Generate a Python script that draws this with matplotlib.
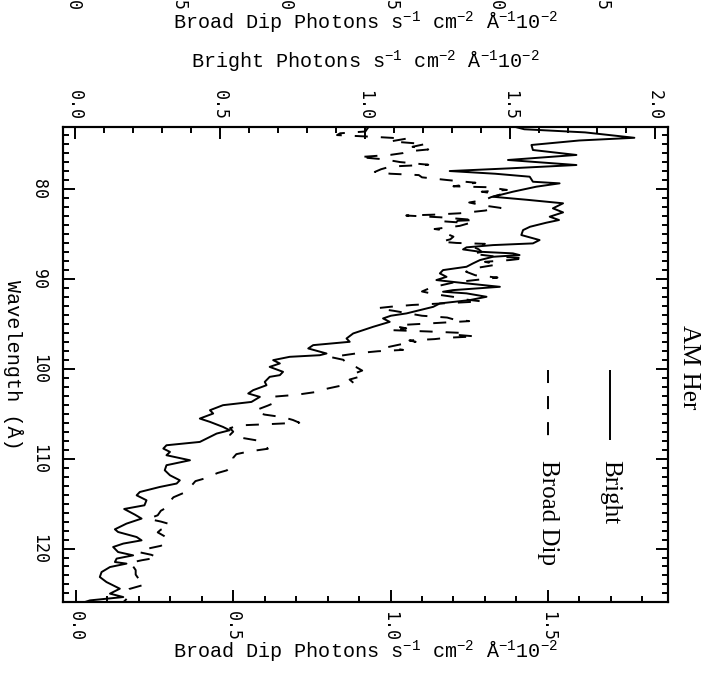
import matplotlib
matplotlib.use('Agg')
import matplotlib.pyplot as plt
from matplotlib.ticker import MultipleLocator

# ---------------- data ----------------
bright_wave = [73.1, 73.35, 73.7, 74.3, 74.6, 75.1, 75.66, 76.21, 76.77, 77.33,
               77.7, 78.0, 78.3, 78.63, 79.19, 79.37, 79.74, 80.3, 80.86, 81.2,
               81.59, 82.15, 82.6, 83.08, 83.45, 83.75, 84.2, 84.57, 85.12, 85.68,
               86.05, 86.24, 86.49, 86.72, 86.98, 87.16, 87.35, 87.54, 87.91, 88.28,
               88.65, 89.02, 89.39, 89.77, 90.13, 90.5, 90.88, 91.25, 91.43, 91.61,
               91.99, 92.36, 92.73, 93.11, 93.47, 93.84, 94.1, 94.4, 94.78, 95.33,
               96.07, 96.63, 97.0, 97.37, 97.74, 98.3, 98.49, 98.67, 99.04, 99.41,
               99.79, 100.34, 100.71, 100.9, 101.46, 101.83, 102.38, 102.75, 103.13, 103.69,
               104.05, 104.61, 104.98, 105.54, 105.91, 106.47, 106.84, 107.21, 108.14, 108.51,
               108.88, 109.25, 109.62, 110.18, 110.73, 111.29, 111.85, 112.41, 112.77, 113.15,
               113.71, 114.08, 114.63, 115.19, 115.6, 116.23, 116.67, 117.23, 117.86, 118.16,
               118.72, 119.09, 119.45, 119.83, 120.39, 120.76, 121.12, 121.5, 121.68, 122.06,
               122.62, 123.17, 123.73, 124.1, 124.47, 125.02, 125.4, 125.77, 126.0]
bright_flux = [1.52, 1.55, 1.76, 1.93, 1.74, 1.575, 1.58, 1.73, 1.494, 1.73,
               1.50, 1.293, 1.45, 1.569, 1.58, 1.672, 1.592, 1.511, 1.442, 1.56,
               1.684, 1.649, 1.684, 1.638, 1.67, 1.626, 1.57, 1.546, 1.54, 1.603,
               1.58, 1.442, 1.351, 1.339, 1.397, 1.511, 1.534, 1.442, 1.397, 1.373,
               1.351, 1.27, 1.259, 1.282, 1.247, 1.351, 1.466, 1.304, 1.27, 1.351,
               1.42, 1.362, 1.259, 1.236, 1.19, 1.144, 1.09, 1.063, 1.086, 1.029,
               0.96, 0.937, 0.948, 0.822, 0.805, 0.868, 0.845, 0.741, 0.684, 0.707,
               0.672, 0.718, 0.707, 0.672, 0.655, 0.661, 0.615, 0.598, 0.638, 0.609,
               0.511, 0.466, 0.477, 0.431, 0.466, 0.511, 0.534, 0.489, 0.431, 0.316,
               0.305, 0.328, 0.316, 0.397, 0.316, 0.31, 0.328, 0.362, 0.351, 0.293,
               0.224, 0.213, 0.247, 0.24, 0.17, 0.207, 0.23, 0.178, 0.138, 0.149,
               0.213, 0.23, 0.167, 0.132, 0.149, 0.201, 0.144, 0.138, 0.178, 0.121,
               0.092, 0.086, 0.109, 0.132, 0.155, 0.121, 0.167, 0.052, 0.03]

dip_wave = [73.1, 73.6, 73.8, 74.0, 74.2, 74.4, 74.7, 75.0, 75.3, 75.6,
            75.8, 76.0, 76.2, 76.45, 76.7, 77.0, 77.3, 77.5, 77.8, 78.1,
            78.3, 78.45, 78.7, 79.0, 79.3, 79.5, 79.7, 79.8, 80.1, 80.3,
            80.6, 80.9, 81.2, 81.5, 81.8, 82.1, 82.4, 82.7, 82.85, 82.95,
            83.15, 83.45, 83.6, 83.8, 84.1, 84.45, 84.65, 85.0, 85.3, 85.6,
            85.86, 86.0, 86.1, 86.4, 86.7, 87.0, 87.2, 87.5, 87.7, 87.9,
            88.1, 88.4, 88.8, 89.2, 89.6, 89.85, 90.05, 90.4, 90.8, 91.1,
            91.4, 91.7, 92.0, 92.3, 92.5, 92.75, 92.9, 93.1, 93.25, 93.4,
            93.55, 93.8, 94.1, 94.3, 94.5, 94.7, 94.9, 95.1, 95.3, 95.5,
            95.7, 95.85, 96.0, 96.2, 96.4, 96.55, 96.7, 96.85, 97.0, 97.3,
            97.6, 97.9, 98.05, 98.25, 98.5, 98.7, 99.0, 99.4, 99.8, 100.2,
            100.6, 100.9, 101.2, 101.5, 101.9, 102.2, 102.6, 102.9, 103.1, 103.4,
            103.8, 104.1, 104.5, 104.8, 105.1, 105.4, 105.7, 106.0, 106.15, 106.3,
            106.6, 107.0, 107.35, 107.7, 108.0, 108.5, 108.9, 109.2, 109.5, 109.9,
            110.4, 110.9, 111.3, 111.6, 111.9, 112.2, 112.5, 112.9, 113.3, 113.7,
            114.0, 114.3, 114.7, 115.1, 115.4, 115.8, 116.3, 116.7, 117.0, 117.3,
            117.6, 117.9, 118.2, 118.6, 118.9, 119.3, 119.7, 120.0, 120.4, 120.7,
            121.0, 121.3, 121.6, 121.9, 122.4, 122.9, 123.4, 123.8, 124.1, 124.5,
            124.9, 125.3, 126.0]
dip_flux = [0.93, 0.92, 0.84, 0.83, 0.95, 1.05, 1.00, 1.11, 1.07, 1.12,
            1.06, 1.04, 1.00, 0.90, 0.98, 1.03, 1.12, 1.00, 0.97, 0.95,
            1.00, 1.09, 1.10, 1.18, 1.27, 1.24, 1.20, 1.31, 1.37, 1.29,
            1.35, 1.32, 1.30, 1.25, 1.29, 1.35, 1.30, 1.22, 1.14, 1.05,
            1.16, 1.27, 1.17, 1.25, 1.22, 1.14, 1.18, 1.18, 1.20, 1.19,
            1.16, 1.21, 1.30, 1.26, 1.28, 1.29, 1.26, 1.33, 1.43, 1.38,
            1.30, 1.34, 1.27, 1.24, 1.27, 1.34, 1.29, 1.20, 1.15, 1.12,
            1.10, 1.14, 1.20, 1.24, 1.29, 1.15, 1.07, 1.00, 0.96, 0.98,
            1.01, 1.05, 1.10, 1.18, 1.20, 1.25, 1.15, 1.05, 1.02, 1.05,
            1.00, 1.12, 1.22, 1.20, 1.27, 1.18, 1.14, 1.06, 1.08, 1.03,
            0.99, 1.04, 0.96, 0.90, 0.85, 0.81, 0.85, 0.86, 0.89, 0.91,
            0.88, 0.90, 0.87, 0.88, 0.84, 0.80, 0.76, 0.70, 0.63, 0.62,
            0.63, 0.61, 0.58, 0.57, 0.60, 0.66, 0.69, 0.71, 0.62, 0.52,
            0.49, 0.50, 0.49, 0.53, 0.58, 0.60, 0.61, 0.55, 0.51, 0.50,
            0.50, 0.49, 0.48, 0.45, 0.43, 0.41, 0.38, 0.37, 0.36, 0.35,
            0.33, 0.31, 0.30, 0.29, 0.29, 0.27, 0.26, 0.23, 0.27, 0.30,
            0.29, 0.27, 0.26, 0.28, 0.29, 0.29, 0.27, 0.23, 0.20, 0.24,
            0.26, 0.21, 0.17, 0.18, 0.19, 0.19, 0.20, 0.22, 0.21, 0.17,
            0.16, 0.17, 0.15]

wave_ticks = [80, 90, 100, 110, 120]
wave_ticklabels = ['80', '90', '100', '110', '120']
dip_ticks = [0.0, 0.5, 1.0, 1.5]
dip_ticklabels = ['0.0', '0.5', '1.0', '1.5']
bright_ticks = [0.0, 0.5, 1.0, 1.5, 2.0]
bright_ticklabels = ['0.0', '0.5', '1.0', '1.5', '2.0']
upper_ticks = [0.0, 0.5, 1.0, 1.5, 2.0, 2.5]
upper_ticklabels = ['0.0', '0.5', '1.0', '1.5', '2.0', '2.5']

title = 'AM Her'
series_names = ['Bright', 'Broad Dip']
unit = r' Photons s$^{-1}$ cm$^{-2}$ Å$^{-1}$10$^{-2}$'
wave_label = 'Wavelength (Å)'

# ---------------- style ----------------
plt.rcParams['mathtext.fontset'] = 'custom'
plt.rcParams['mathtext.rm'] = 'Liberation Mono'
plt.rcParams['mathtext.it'] = 'Liberation Mono'
plt.rcParams['mathtext.bf'] = 'Liberation Mono'
MONO = 'Liberation Mono'
SERIF = 'Liberation Serif'
TICKFONT = 'DejaVu Sans Mono'
TICKFS = 12
LABFS = 14.5
LW = 1.4
DASH = (0, (6.7, 6.7))

W, H = 717, 673
L, R, T, B = 63, 668, 127, 602
fig = plt.figure(figsize=(W / 100, H / 100), dpi=100)

ax = fig.add_axes([L / W, 1 - B / H, (R - L) / W, (B - T) / H])
ax.set_xlim(-0.041, 1.882)
ax.set_ylim(125.95, 73.1)
ax2 = ax.twiny()
ax2.set_xlim(-0.041, 2.046)

ax.plot(dip_flux, dip_wave, color='black', lw=LW, linestyle=DASH)
ax2.plot(bright_flux, bright_wave, color='black', lw=LW)

for a in (ax, ax2):
    for s in a.spines.values():
        s.set_linewidth(1.5)

ax.yaxis.set_minor_locator(MultipleLocator(1))
ax.xaxis.set_minor_locator(MultipleLocator(0.1))
ax2.xaxis.set_minor_locator(MultipleLocator(0.1))

ax.set_yticks(wave_ticks, labels=wave_ticklabels, rotation=-90, ha='right',
              va='center', fontfamily=TICKFONT, fontsize=TICKFS)
ax.set_xticks(dip_ticks, labels=dip_ticklabels, rotation=-90, ha='center',
              va='top', fontfamily=TICKFONT, fontsize=TICKFS)
ax2.set_xticks(bright_ticks, labels=bright_ticklabels, rotation=-90, ha='center',
               va='bottom', fontfamily=TICKFONT, fontsize=TICKFS)

ax.tick_params(axis='y', which='both', direction='in', left=True, right=True,
               labelleft=True, labelright=False, width=1.4, pad=11)
ax.tick_params(axis='x', which='both', direction='in', bottom=True, top=False,
               width=1.4, pad=6.5)
ax2.tick_params(axis='x', which='both', direction='in', top=True, bottom=False,
                labeltop=True, width=1.4, pad=5)
for a in (ax, ax2):
    a.tick_params(which='major', length=8.5)
    a.tick_params(which='minor', length=4.3)

# axis titles
ax.text(-0.0818, 0.5, wave_label, rotation=-90, ha='center', va='center',
        transform=ax.transAxes, fontfamily=MONO, fontsize=LABFS)
ax.text(0.5, -0.105, series_names[1] + unit, ha='center', va='center',
        transform=ax.transAxes, fontfamily=MONO, fontsize=LABFS)
ax.text(0.5, 1.138, series_names[0] + unit, ha='center', va='center',
        transform=ax.transAxes, fontfamily=MONO, fontsize=LABFS)

# title
ax.text(1.034, 0.495, title, rotation=-90, ha='center', va='center',
        transform=ax.transAxes, fontfamily=SERIF, fontsize=18, clip_on=False)

# legend
ax.plot([0.904, 0.904], [0.488, 0.341], transform=ax.transAxes, color='black',
        lw=LW, solid_capstyle='butt')
ax.text(0.904, 0.299, series_names[0], rotation=-90, ha='center', va='top',
        transform=ax.transAxes, fontfamily=SERIF, fontsize=18)
ax.plot([0.802, 0.802], [0.488, 0.341], transform=ax.transAxes, color='black',
        lw=LW, linestyle=DASH, dash_capstyle='butt')
ax.text(0.802, 0.299, series_names[1], rotation=-90, ha='center', va='top',
        transform=ax.transAxes, fontfamily=SERIF, fontsize=18)

# partially visible axis of the panel above (cut by the page edge)
ax3 = fig.add_axes([L / W, 1 + 19 / H, (R - L) / W, 0.02])
ax3.set_xlim(-0.047, 2.813)
ax3.set_xticks(upper_ticks, labels=upper_ticklabels, rotation=-90, ha='center',
               va='top', fontfamily=TICKFONT, fontsize=TICKFS)
ax3.tick_params(axis='x', length=0, pad=0)
ax3.set_yticks([])
for s in ax3.spines.values():
    s.set_visible(False)
ax3.patch.set_visible(False)
fig.text((L + R) / 2 / W, 1 - 23 / H, series_names[1] + unit, ha='center',
         va='center', fontfamily=MONO, fontsize=LABFS)

fig.savefig('out.png', dpi=100)
